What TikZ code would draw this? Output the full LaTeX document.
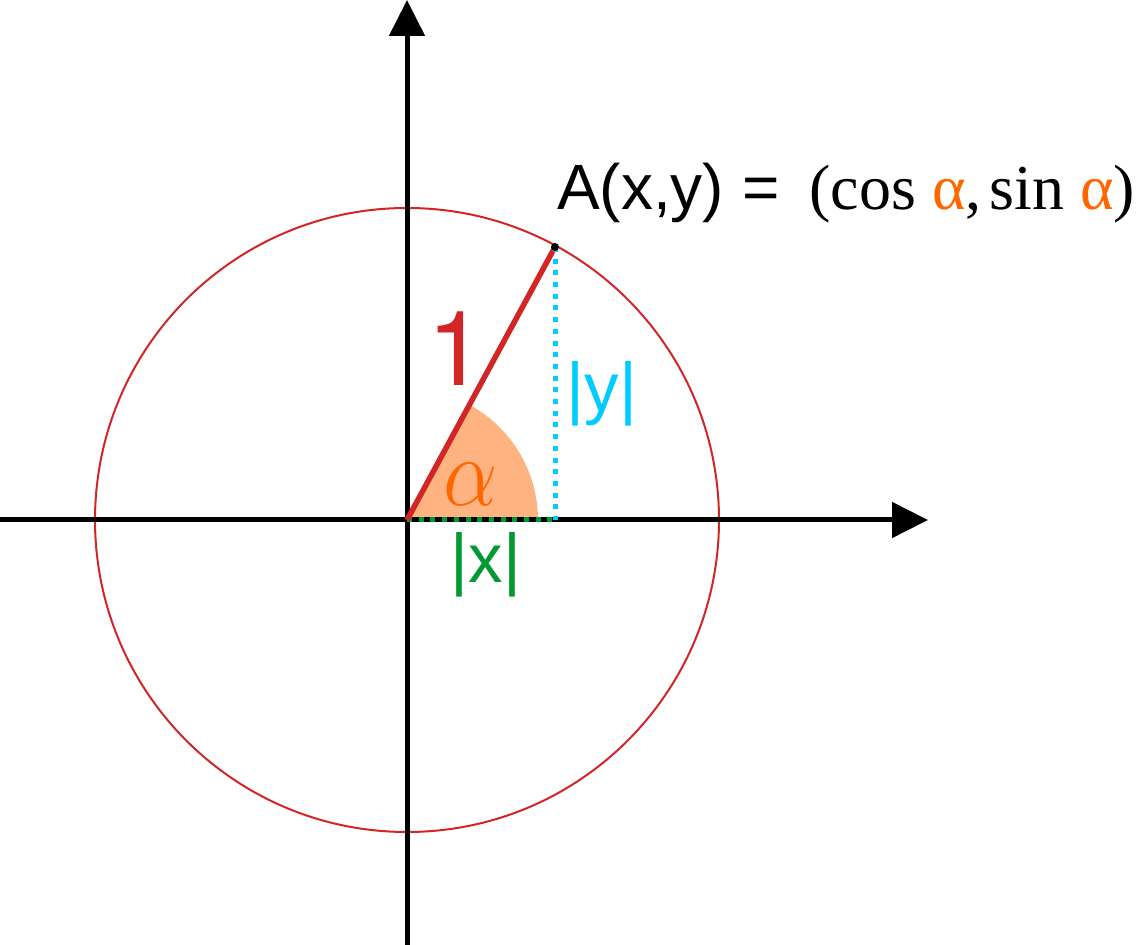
\RequirePackage{fix-cm}
\documentclass[tikz,border=0pt]{standalone}
\usepackage{fontspec}
\setmainfont{Liberation Serif}
\setsansfont{Liberation Sans}
\newfontfamily\heros{TeX Gyre Heros}
\usepackage{graphicx}
\usetikzlibrary{arrows.meta}
\definecolor{circred}{RGB}{210,38,38}
\definecolor{alphaor}{RGB}{255,102,0}
\definecolor{sectfill}{RGB}{255,179,128}
\definecolor{ycyan}{RGB}{0,204,255}
\definecolor{xgreen}{RGB}{0,153,51}
\tikzset{
  axisline/.style={line width=5pt,black,-{Triangle[length=36pt,width=35pt]}},
  dotline/.style={line width=5pt,dash pattern=on 5pt off 6.7pt},
  lbl/.style={inner sep=0pt,anchor=base,font=\sffamily},
}
\begin{document}
\begin{tikzpicture}[x=1pt,y=1pt]
\useasboundingbox (0,0) rectangle (1141,945);
\coordinate (O) at (407,425);
\coordinate (A) at (555,698);
\coordinate (Ax) at (A |- O);
\coordinate (L) at (0,425);
\coordinate (R) at (928,425);
\coordinate (B) at (407,0);
\coordinate (T) at (407,945);
% sector
\fill[sectfill] (O) -- ++(131pt,0) arc[start angle=0,end angle=61.5,radius=131pt] -- cycle;
% circle
\draw[circred,line width=2pt] (O) circle[radius=312pt];
% axes
\draw[axisline] (L) -- (R);
\draw[axisline] (B) -- (T);
% |x| dotted
\draw[dotline,xgreen] (O) -- (Ax);
% radius
\draw[circred,line width=5.5pt] (O) -- (A);
% |y| dotted
\draw[dotline,ycyan] (A) -- (Ax);
\fill[black] (A) circle[radius=4pt];
% labels
\node[lbl,text=circred,font=\heros\fontsize{104}{112}\selectfont] (one) at (456,559) {1};
\node[lbl,text=ycyan,font=\sffamily\fontsize{69}{75}\selectfont] (ylab) at (602,533) {|y|};
\node[lbl,text=xgreen,font=\sffamily\fontsize{69}{75}\selectfont] (xlab) at (486,362) {|x|};
\node[inner sep=0pt,text=alphaor,font=\fontsize{98}{108}\selectfont] (alab) at (471,461) {\scalebox{0.88}[1]{$\alpha$}};
\node[inner sep=0pt,anchor=base west,font=\fontsize{64}{70}\selectfont] (eq) at (557,735)
  {\sffamily A(x,y) =\hspace{30pt}\rmfamily(cos \textcolor{alphaor}{α},\hspace{8pt}sin \textcolor{alphaor}{α})};
\end{tikzpicture}
\end{document}
